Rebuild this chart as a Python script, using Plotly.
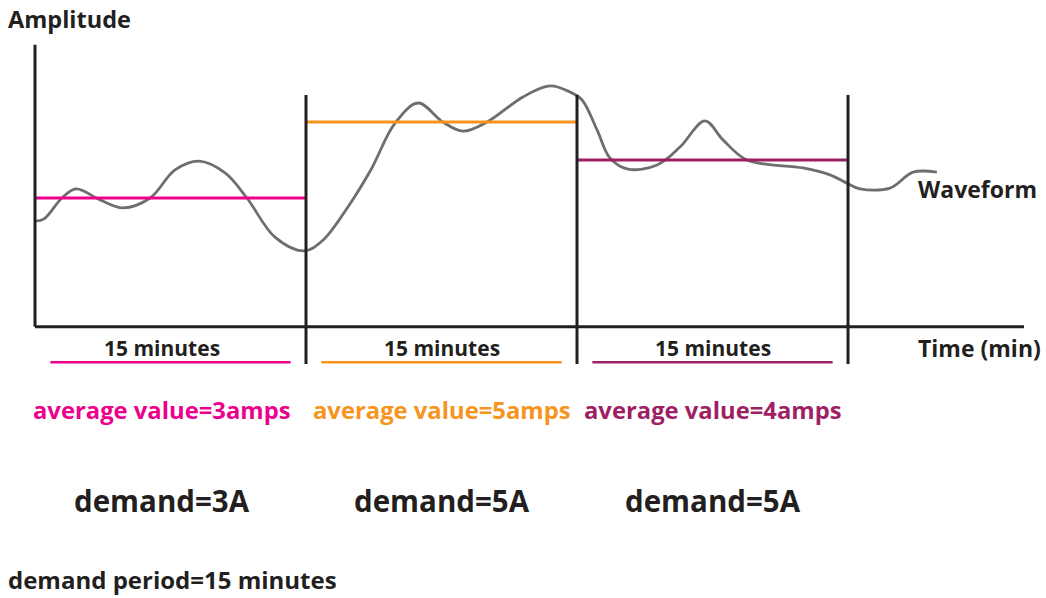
import plotly.graph_objects as go

# --- data -------------------------------------------------------------
# sampled waveform: time in minutes, amplitude in amps
time_min = [0.0, 0.5, 1.49, 2.27, 3.60, 4.87, 6.37, 7.75, 9.08, 10.52,
            11.73, 13.28, 14.9, 15.94, 17.3, 18.6, 19.9, 21.20, 22.58, 23.69,
            25.02, 27.01, 28.50, 29.61, 30.28, 31.11, 31.83, 32.82, 34.43, 35.70,
            37.08, 38.08, 39.41, 42.51, 44.00, 44.94, 45.66, 47.32, 48.60, 49.92]
amplitude = [2.39, 2.45, 3.00, 3.24, 2.95, 2.74, 3.00, 3.74, 3.97, 3.66,
             3.00, 1.97, 1.61, 1.89, 2.75, 3.75, 4.95, 5.50, 5.00, 4.76,
             5.00, 5.66, 5.95, 5.79, 5.58, 4.79, 4.05, 3.76, 3.87, 4.34,
             5.03, 4.53, 4.00, 3.79, 3.61, 3.39, 3.24, 3.26, 3.68, 3.68]

# demand intervals
period_start = [0, 15, 30]
period_end = [15, 30, 45]
period_label = ["15 minutes", "15 minutes", "15 minutes"]
average_amps = [3, 5, 4]
demand_amps = [3, 5, 5]
period_colors = ["#EC008C", "#F7941D", "#9E1F63"]

# --- layout constants -------------------------------------------------
W, H = 1046, 598
PX_PER_MIN = 18.067
ORIGIN_PX = 35
PX_PER_AMP = 38.0
ZERO_AMP_PX = 312

x_range = [-ORIGIN_PX / PX_PER_MIN, (W - ORIGIN_PX) / PX_PER_MIN]
y_range = [(ZERO_AMP_PX - H) / PX_PER_AMP, ZERO_AMP_PX / PX_PER_AMP]

axis_base = -0.39      # amplitude at which the time axis is drawn
axis_top = 7.03
axis_end = 54.74
divider_top = 5.71
divider_bottom = -1.37
underline_y = -1.32
label_xshift = [-9, 0, 0]  # horizontal nudge of each interval's captions (px)

INK = "#231F20"
WAVE = "#6D6E71"
FONT = "Open Sans"


def px(x):
    return x / W


def py(y):
    return 1 - y / H


fig = go.Figure()

# waveform
fig.add_trace(go.Scatter(
    x=time_min, y=amplitude, mode="lines",
    line=dict(color=WAVE, width=2.8, shape="spline", smoothing=1.0),
    hoverinfo="skip", showlegend=False,
))

# average value over each interval
for s, e, a, c in zip(period_start, period_end, average_amps, period_colors):
    fig.add_trace(go.Scatter(
        x=[s, e], y=[a, a], mode="lines",
        line=dict(color=c, width=3), hoverinfo="skip", showlegend=False,
    ))

shapes = []
# axes
shapes.append(dict(type="line", xref="x", yref="y", x0=0, x1=0,
                   y0=axis_base, y1=axis_top, line=dict(color=INK, width=3)))
shapes.append(dict(type="line", xref="x", yref="y", x0=0, x1=axis_end,
                   y0=axis_base, y1=axis_base, line=dict(color=INK, width=3)))
# interval dividers
for e in period_end:
    shapes.append(dict(type="line", xref="x", yref="y", x0=e, x1=e,
                       y0=divider_bottom, y1=divider_top,
                       line=dict(color=INK, width=3)))
# coloured underlines beneath the interval labels
for s, e, c in zip(period_start, period_end, period_colors):
    shapes.append(dict(type="line", xref="x", yref="y", x0=s + 0.85, x1=e - 0.85,
                       y0=underline_y, y1=underline_y,
                       line=dict(color=c, width=2.5)))

annotations = []


def label(text, x, y, size, color=INK, xanchor="left"):
    annotations.append(dict(
        text=text, x=px(x), y=py(y), xref="paper", yref="paper",
        xanchor=xanchor, yanchor="middle", showarrow=False,
        font=dict(family=FONT, size=size, color=color, weight="bold"),
    ))


label("Amplitude", 6, 19, 23.5)
label("Waveform", 916, 189, 23)
label("Time (min)", 916, 348, 23)

for s, e, lab, a, d, c, dx in zip(period_start, period_end, period_label,
                                  average_amps, demand_amps, period_colors,
                                  label_xshift):
    mid = (s + e) / 2
    common = dict(x=mid, y=0.0, xref="x", yref="paper", showarrow=False,
                  xanchor="center", yanchor="middle", xshift=dx)
    annotations.append(dict(
        text=lab, yshift=H - 348,
        font=dict(family=FONT, size=21, color=INK, weight="bold"), **common,
    ))
    annotations.append(dict(
        text=f"average value={a}amps", yshift=H - 410,
        font=dict(family=FONT, size=23.8, color=c, weight="bold"), **common,
    ))
    annotations.append(dict(
        text=f"demand={d}A", yshift=H - 500,
        font=dict(family=FONT, size=29.5, color=INK, weight="bold"), **common,
    ))

label("demand period=15 minutes", 6, 579, 24)

fig.update_layout(
    width=W, height=H,
    margin=dict(l=0, r=0, t=0, b=0, pad=0),
    paper_bgcolor="white", plot_bgcolor="white",
    xaxis=dict(range=x_range, visible=False, fixedrange=True),
    yaxis=dict(range=y_range, visible=False, fixedrange=True),
    shapes=shapes, annotations=annotations, showlegend=False,
)

fig.write_html("out.html")
